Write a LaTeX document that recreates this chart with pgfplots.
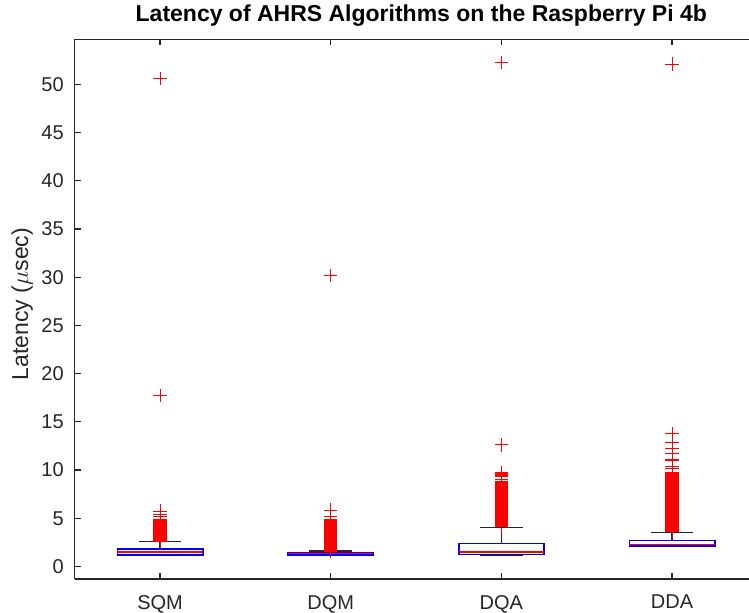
\documentclass[border=0pt]{standalone}
\usepackage{fontspec}
\setmainfont{Liberation Sans}
\usepackage{pgfplots}
\pgfplotsset{compat=1.18}
\usepgfplotslibrary{statistics}
\usetikzlibrary{calc}
\definecolor{mlgray}{rgb}{0.15,0.15,0.15}

\pgfplotsset{
  mlbox/.style={
    red, solid, mark=+, mark size=3.3pt,
    mark options={red, solid, line width=0.5pt},
    boxplot/draw direction=y,
    boxplot/box extend=0.5,
    boxplot/whisker extend=0.25,
    boxplot/every box/.style={draw=blue, line width=0.8pt},
    boxplot/every median/.style={draw=red, line width=0.7pt},
    boxplot/every whisker/.style={draw=mlgray, line width=0.7pt},
  },
}

\begin{document}
\begin{tikzpicture}
\begin{axis}[
  scale only axis, width=337.15pt, height=269.85pt,
  xmin=0.5, xmax=4.451, ymin=-1.30, ymax=54.67,
  axis y line*=left,
  xtick={1,2,3,4}, xticklabels={SQM,DQM,DQA,DDA},
  ytick={0,5,...,50},
  tick align=inside, major tick length=3pt,
  axis line style={draw=mlgray, line width=0.6pt},
  tick style={draw=mlgray, line width=0.6pt},
  /pgf/number format/assume math mode=true,
  tick label style={font=\fontsize{10}{12}\selectfont, text=mlgray},
  xticklabel style={yshift=-4.5pt},
  yticklabel style={xshift=-2pt},
  title={Latency of AHRS Algorithms on the Raspberry Pi 4b},
  title style={at={(axis description cs:0.514,1)}, anchor=base, yshift=2.8pt,
    font=\bfseries\fontsize{11.5}{13}\selectfont, text=black},
  ylabel={Latency ($\mu$sec)},
  ylabel style={at={(axis description cs:-0.0691,0.5095)}, anchor=base,
    font=\fontsize{11.5}{13}\selectfont, text=mlgray},
]
\coordinate (o) at (rel axis cs:0,0);

% SQM
\addplot[mlbox, boxplot prepared={draw position=1,
  lower whisker=1.17, lower quartile=1.19, median=1.5,
  upper quartile=1.82, upper whisker=2.6}]
  table[row sep=\\, y index=0] {v\\
  2.6\\ 2.7\\ 2.8\\ 2.9\\ 3.0\\ 3.1\\ 3.2\\ 3.3\\ 3.4\\ 3.5\\ 3.6\\ 3.7\\
  3.8\\ 3.9\\ 4.0\\ 4.1\\ 4.2\\ 4.3\\ 4.4\\ 4.5\\ 4.6\\ 4.7\\ 4.8\\ 4.9\\
  5.15\\ 5.35\\ 5.75\\ 17.7\\ 50.6\\};

% DQM
\addplot[mlbox, boxplot prepared={draw position=2,
  lower whisker=1.15, lower quartile=1.2, median=1.35,
  upper quartile=1.45, upper whisker=1.6}]
  table[row sep=\\, y index=0] {v\\
  1.6\\ 1.7\\ 1.8\\ 1.9\\ 2.0\\ 2.1\\ 2.2\\ 2.3\\ 2.4\\ 2.5\\ 2.6\\ 2.7\\
  2.8\\ 2.9\\ 3.0\\ 3.1\\ 3.2\\ 3.3\\ 3.4\\ 3.5\\ 3.6\\ 3.7\\ 3.8\\ 3.9\\
  4.0\\ 4.1\\ 4.2\\ 4.3\\ 4.4\\ 4.5\\ 4.6\\ 4.7\\ 4.8\\ 4.9\\
  5.15\\ 5.85\\ 30.2\\};

% DQA
\addplot[mlbox, boxplot prepared={draw position=3,
  lower whisker=1.14, lower quartile=1.24, median=1.5,
  upper quartile=2.38, upper whisker=4.05}]
  table[row sep=\\, y index=0] {v\\
  4.1\\ 4.2\\ 4.3\\ 4.4\\ 4.5\\ 4.6\\ 4.7\\ 4.8\\ 4.9\\ 5.0\\ 5.1\\ 5.2\\
  5.3\\ 5.4\\ 5.5\\ 5.6\\ 5.7\\ 5.8\\ 5.9\\ 6.0\\ 6.1\\ 6.2\\ 6.3\\ 6.4\\
  6.5\\ 6.6\\ 6.7\\ 6.8\\ 6.9\\ 7.0\\ 7.1\\ 7.2\\ 7.3\\ 7.4\\ 7.5\\ 7.6\\
  7.7\\ 7.8\\ 7.9\\ 8.0\\ 8.1\\ 8.2\\ 8.3\\ 8.4\\ 8.5\\ 8.6\\ 8.7\\ 8.8\\
  9.0\\ 9.3\\ 9.4\\ 9.5\\ 9.6\\ 9.7\\ 12.6\\ 52.3\\};

% DDA
\addplot[mlbox, boxplot prepared={draw position=4,
  lower whisker=2.05, lower quartile=2.15, median=2.25,
  upper quartile=2.7, upper whisker=3.55}]
  table[row sep=\\, y index=0] {v\\
  3.6\\ 3.7\\ 3.8\\ 3.9\\ 4.0\\ 4.1\\ 4.2\\ 4.3\\ 4.4\\ 4.5\\ 4.6\\ 4.7\\
  4.8\\ 4.9\\ 5.0\\ 5.1\\ 5.2\\ 5.3\\ 5.4\\ 5.5\\ 5.6\\ 5.7\\ 5.8\\ 5.9\\
  6.0\\ 6.1\\ 6.2\\ 6.3\\ 6.4\\ 6.5\\ 6.6\\ 6.7\\ 6.8\\ 6.9\\ 7.0\\ 7.1\\
  7.2\\ 7.3\\ 7.4\\ 7.5\\ 7.6\\ 7.7\\ 7.8\\ 7.9\\ 8.0\\ 8.1\\ 8.2\\ 8.3\\
  8.4\\ 8.5\\ 8.6\\ 8.7\\ 8.8\\ 8.9\\ 9.0\\ 9.1\\ 9.2\\ 9.3\\ 9.4\\ 9.5\\
  9.6\\ 9.7\\ 10.2\\ 10.4\\ 10.95\\ 11.05\\ 11.7\\ 12.2\\ 12.9\\ 13.8\\ 52.1\\};
\end{axis}
\pgfresetboundingbox
\path[use as bounding box] ($(o)+(-37.35pt,-17pt)$) rectangle ($(o)+(337.15pt,289.5pt)$);
\end{tikzpicture}
\end{document}
